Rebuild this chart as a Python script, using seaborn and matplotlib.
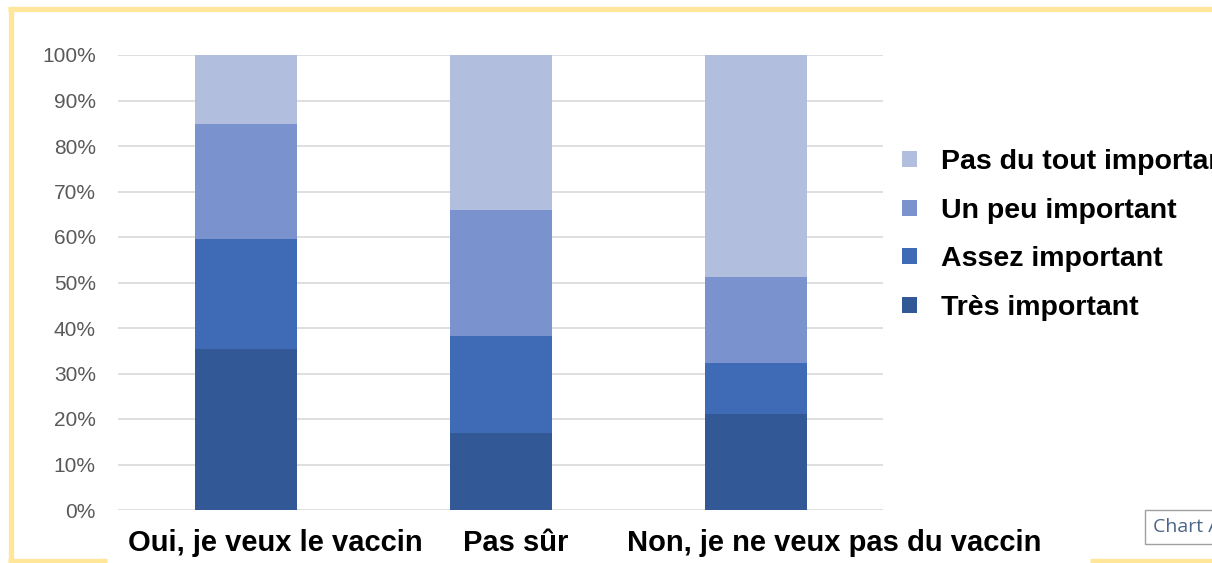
import matplotlib
matplotlib.use("Agg")
import matplotlib.pyplot as plt
from matplotlib.lines import Line2D
from matplotlib.patches import Patch
from matplotlib.transforms import ScaledTranslation
import seaborn as sns
import pandas as pd
import numpy as np

categories = ["Oui, je veux le vaccin", "Pas sûr", "Non, je ne veux pas du vaccin"]
series = ["Très important", "Assez important", "Un peu important", "Pas du tout important"]
tres = [35.3, 16.9, 21.1]
assez = [24.2, 21.3, 11.1]
un_peu = [25.4, 27.8, 19.1]
pas_du_tout = [15.1, 34.0, 48.7]
ytick_labels = ["0%", "10%", "20%", "30%", "40%", "50%", "60%", "70%", "80%", "90%", "100%"]

colors = {"Très important": "#325896", "Assez important": "#3F6AB6",
          "Un peu important": "#7A92CE", "Pas du tout important": "#B2BEDE"}

sns.set_style("white")
plt.rcParams['font.family'] = ['Liberation Sans', 'DejaVu Sans']

W, H = 1212, 563
fig = plt.figure(figsize=(W / 100, H / 100), dpi=100)
ax = fig.add_axes([118 / W, 1 - 510 / H, (883 - 118) / W, (510 - 55) / H])

values = np.array([tres, assez, un_peu, pas_du_tout])
totals = values.sum(axis=0)
pct = values / totals * 100
cum = np.cumsum(pct, axis=0)

# draw from top layer down so lower layers overlay
for i in range(len(series) - 1, -1, -1):
    df = pd.DataFrame({"cat": categories, "val": cum[i]})
    sns.barplot(data=df, x="cat", y="val", order=categories, color=colors[series[i]],
                width=0.4, saturation=1, ax=ax, zorder=3, linewidth=0)

ax.set_xlim(-0.5, 2.5)
ax.set_ylim(0, 100)
ax.set_yticks(np.arange(0, 101, 10))
ax.set_yticklabels(ytick_labels, fontsize=15, color="#595959")
ax.set_xticks(range(len(categories)))
ax.set_xticklabels(categories, fontsize=21, fontweight="bold", color="black")
ax.tick_params(axis="y", length=0, pad=16)
ax.tick_params(axis="x", length=0, pad=14)
# label offsets (px) as in reference layout
for lbl, dx in zip(ax.get_xticklabels(), [30, 15, 79]):
    lbl.set_transform(lbl.get_transform() + ScaledTranslation(dx / 100, 0, fig.dpi_scale_trans))
ax.grid(axis="y", color="#D9D9D9", linewidth=1.2, zorder=0)
ax.set_axisbelow(True)
for s in ax.spines.values():
    s.set_visible(False)
ax.set_xlabel("")
ax.set_ylabel("")

handles = [Patch(facecolor=colors[s], edgecolor="none") for s in reversed(series)]
leg = fig.legend(handles, list(reversed(series)), loc="upper left",
                 bbox_to_anchor=(891 / W, 1 - 138 / H), frameon=False,
                 prop={"size": 20.5, "weight": "bold"}, handlelength=0.5, handleheight=0.5,
                 handletextpad=0.85, labelspacing=0.79, borderaxespad=0)
for t in leg.get_texts():
    t.set_color("black")

# yellow frame
yc = "#FFE699"
lw = 3.8
def seg(x0, y0, x1, y1):
    fig.add_artist(Line2D([x0 / W, x1 / W], [1 - y0 / H, 1 - y1 / H], color=yc,
                          linewidth=lw, transform=fig.transFigure, solid_capstyle="butt"))
seg(8, 8.5, W, 8.5)
seg(10.5, 8, 10.5, 563)
seg(8, 560.5, 107, 560.5)
seg(1090, 560.5, W, 560.5)

# tooltip
fig.text(1153 / W, 1 - 527 / H, "Chart Area", fontsize=14, color="#4A6587",
         va="center", ha="left", family=["Open Sans", "DejaVu Sans"],
         bbox=dict(boxstyle="square,pad=0.4", facecolor="white", edgecolor="#A0A0A0", linewidth=1))

fig.savefig("out.png", dpi=100)
